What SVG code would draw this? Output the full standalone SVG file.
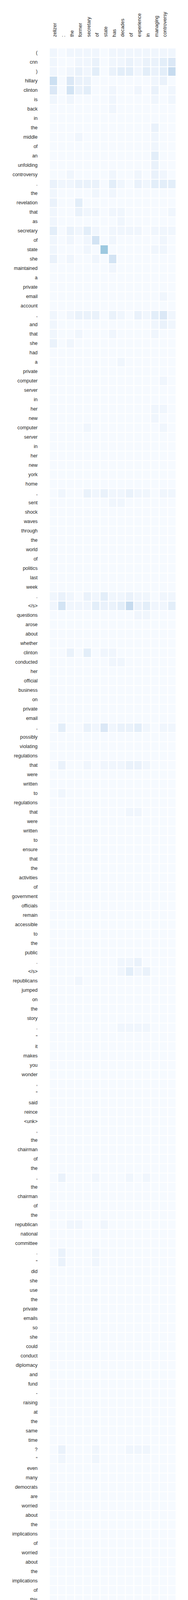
<svg xmlns="http://www.w3.org/2000/svg" width="480" height="4953" viewBox="0 0 480 4953">
<style>
.t{font-family:"Liberation Sans",Arial,sans-serif;font-size:12.4px;fill:#262626}
.r{text-anchor:end}
.a{fill:#f6faff}
.b{fill:#f0f6fd}
.c{fill:#eaf2fb}
.d{fill:#e3eef9}
.e{fill:#dbe8f6}
.f{fill:#d3e4f4}
.fg{fill:#cce0f2}
.g{fill:#c6dbef}
.h{fill:#9dc9e0}
</style>
<rect width="480" height="4953" fill="#ffffff"/>
<g id="base">
<rect class="a" x="127" y="124" width="18.8" height="4798"/>
<rect class="a" x="148.6" y="124" width="18.8" height="4798"/>
<rect class="a" x="170.2" y="124" width="18.8" height="4798"/>
<rect class="a" x="191.8" y="124" width="18.8" height="4798"/>
<rect class="a" x="213.4" y="124" width="18.8" height="4798"/>
<rect class="a" x="235" y="124" width="18.8" height="4798"/>
<rect class="a" x="256.6" y="124" width="18.8" height="4798"/>
<rect class="a" x="278.2" y="124" width="18.8" height="4798"/>
<rect class="a" x="299.8" y="124" width="18.8" height="4798"/>
<rect class="a" x="321.4" y="124" width="18.8" height="4798"/>
<rect class="a" x="343" y="124" width="18.8" height="4798"/>
<rect class="a" x="364.6" y="124" width="18.8" height="4798"/>
<rect class="a" x="386.2" y="124" width="18.8" height="4798"/>
<rect class="a" x="407.8" y="124" width="18.8" height="4798"/>
<rect class="a" x="429.4" y="124" width="18.8" height="4798"/>
</g>
<g id="cells">
<g transform="translate(0,124)"><rect class="b" x="127" width="18.8" height="22"/><rect class="b" x="170.2" width="18.8" height="22"/><rect class="b" x="191.8" width="18.8" height="22"/><rect class="b" x="213.4" width="18.8" height="22"/><rect class="b" x="235" width="18.8" height="22"/><rect class="b" x="278.2" width="18.8" height="22"/><rect class="b" x="299.8" width="18.8" height="22"/><rect class="b" x="321.4" width="18.8" height="22"/><rect class="b" x="343" width="18.8" height="22"/><rect class="b" x="364.6" width="18.8" height="22"/><rect class="b" x="386.2" width="18.8" height="22"/><rect class="b" x="407.8" width="18.8" height="22"/><rect class="b" x="429.4" width="18.8" height="22"/></g>
<g transform="translate(0,148)"><rect class="b" x="127" width="18.8" height="22"/><rect class="b" x="191.8" width="18.8" height="22"/><rect class="b" x="213.4" width="18.8" height="22"/><rect class="c" x="235" width="18.8" height="22"/><rect class="b" x="278.2" width="18.8" height="22"/><rect class="b" x="299.8" width="18.8" height="22"/><rect class="c" x="321.4" width="18.8" height="22"/><rect class="b" x="343" width="18.8" height="22"/><rect class="c" x="364.6" width="18.8" height="22"/><rect class="c" x="386.2" width="18.8" height="22"/><rect class="d" x="407.8" width="18.8" height="22"/><rect class="e" x="429.4" width="18.8" height="22"/></g>
<g transform="translate(0,172)"><rect class="b" x="127" width="18.8" height="22"/><rect class="b" x="170.2" width="18.8" height="22"/><rect class="c" x="191.8" width="18.8" height="22"/><rect class="b" x="213.4" width="18.8" height="22"/><rect class="d" x="235" width="18.8" height="22"/><rect class="c" x="278.2" width="18.8" height="22"/><rect class="d" x="299.8" width="18.8" height="22"/><rect class="d" x="321.4" width="18.8" height="22"/><rect class="b" x="343" width="18.8" height="22"/><rect class="d" x="364.6" width="18.8" height="22"/><rect class="c" x="386.2" width="18.8" height="22"/><rect class="d" x="407.8" width="18.8" height="22"/><rect class="g" x="429.4" width="18.8" height="22"/></g>
<g transform="translate(0,196)"><rect class="fg" x="127" width="18.8" height="22"/><rect class="e" x="170.2" width="18.8" height="22"/><rect class="c" x="191.8" width="18.8" height="22"/><rect class="c" x="213.4" width="18.8" height="22"/><rect class="b" x="386.2" width="18.8" height="22"/><rect class="c" x="407.8" width="18.8" height="22"/></g>
<g transform="translate(0,220)"><rect class="e" x="127" width="18.8" height="22"/><rect class="f" x="170.2" width="18.8" height="22"/><rect class="c" x="191.8" width="18.8" height="22"/><rect class="d" x="213.4" width="18.8" height="22"/><rect class="b" x="278.2" width="18.8" height="22"/><rect class="b" x="343" width="18.8" height="22"/><rect class="c" x="386.2" width="18.8" height="22"/><rect class="b" x="429.4" width="18.8" height="22"/></g>
<g transform="translate(0,244)"><rect class="b" x="127" width="18.8" height="22"/><rect class="b" x="170.2" width="18.8" height="22"/><rect class="b" x="278.2" width="18.8" height="22"/><rect class="b" x="386.2" width="18.8" height="22"/><rect class="b" x="429.4" width="18.8" height="22"/></g>
<g transform="translate(0,268)"><rect class="b" x="278.2" width="18.8" height="22"/></g>
<g transform="translate(0,316)"><rect class="c" x="386.2" width="18.8" height="22"/></g>
<g transform="translate(0,340)"><rect class="b" x="191.8" width="18.8" height="22"/><rect class="b" x="386.2" width="18.8" height="22"/></g>
<g transform="translate(0,364)"><rect class="b" x="386.2" width="18.8" height="22"/></g>
<g transform="translate(0,388)"><rect class="d" x="386.2" width="18.8" height="22"/></g>
<g transform="translate(0,412)"><rect class="c" x="386.2" width="18.8" height="22"/></g>
<g transform="translate(0,436)"><rect class="b" x="170.2" width="18.8" height="22"/><rect class="b" x="278.2" width="18.8" height="22"/><rect class="b" x="343" width="18.8" height="22"/><rect class="c" x="386.2" width="18.8" height="22"/><rect class="b" x="407.8" width="18.8" height="22"/></g>
<g transform="translate(0,460)"><rect class="c" x="127" width="18.8" height="22"/><rect class="b" x="148.6" width="18.8" height="22"/><rect class="b" x="170.2" width="18.8" height="22"/><rect class="c" x="191.8" width="18.8" height="22"/><rect class="c" x="213.4" width="18.8" height="22"/><rect class="c" x="235" width="18.8" height="22"/><rect class="d" x="278.2" width="18.8" height="22"/><rect class="b" x="299.8" width="18.8" height="22"/><rect class="c" x="343" width="18.8" height="22"/><rect class="b" x="364.6" width="18.8" height="22"/><rect class="d" x="386.2" width="18.8" height="22"/><rect class="d" x="407.8" width="18.8" height="22"/><rect class="d" x="429.4" width="18.8" height="22"/></g>
<g transform="translate(0,484)"><rect class="b" x="127" width="18.8" height="22"/><rect class="b" x="235" width="18.8" height="22"/><rect class="b" x="278.2" width="18.8" height="22"/></g>
<g transform="translate(0,508)"><rect class="c" x="127" width="18.8" height="22"/><rect class="d" x="191.8" width="18.8" height="22"/></g>
<g transform="translate(0,532)"><rect class="b" x="127" width="18.8" height="22"/><rect class="c" x="191.8" width="18.8" height="22"/><rect class="b" x="213.4" width="18.8" height="22"/><rect class="b" x="235" width="18.8" height="22"/><rect class="b" x="278.2" width="18.8" height="22"/><rect class="b" x="299.8" width="18.8" height="22"/><rect class="b" x="429.4" width="18.8" height="22"/></g>
<g transform="translate(0,556)"><rect class="b" x="127" width="18.8" height="22"/><rect class="b" x="299.8" width="18.8" height="22"/></g>
<g transform="translate(0,580)"><rect class="d" x="127" width="18.8" height="22"/><rect class="c" x="170.2" width="18.8" height="22"/><rect class="b" x="191.8" width="18.8" height="22"/><rect class="d" x="213.4" width="18.8" height="22"/><rect class="b" x="235" width="18.8" height="22"/><rect class="b" x="278.2" width="18.8" height="22"/><rect class="b" x="299.8" width="18.8" height="22"/><rect class="b" x="321.4" width="18.8" height="22"/><rect class="b" x="343" width="18.8" height="22"/><rect class="b" x="386.2" width="18.8" height="22"/><rect class="b" x="407.8" width="18.8" height="22"/><rect class="b" x="429.4" width="18.8" height="22"/></g>
<g transform="translate(0,604)"><rect class="b" x="127" width="18.8" height="22"/><rect class="b" x="170.2" width="18.8" height="22"/><rect class="b" x="213.4" width="18.8" height="22"/><rect class="f" x="235" width="18.8" height="22"/><rect class="b" x="278.2" width="18.8" height="22"/><rect class="b" x="407.8" width="18.8" height="22"/></g>
<g transform="translate(0,628)"><rect class="b" x="127" width="18.8" height="22"/><rect class="b" x="213.4" width="18.8" height="22"/><rect class="h" x="256.6" width="18.8" height="22"/><rect class="b" x="386.2" width="18.8" height="22"/><rect class="b" x="407.8" width="18.8" height="22"/></g>
<g transform="translate(0,652)"><rect class="c" x="127" width="18.8" height="22"/><rect class="b" x="170.2" width="18.8" height="22"/><rect class="b" x="235" width="18.8" height="22"/><rect class="f" x="278.2" width="18.8" height="22"/></g>
<g transform="translate(0,676)"><rect class="b" x="278.2" width="18.8" height="22"/></g>
<g transform="translate(0,748)"><rect class="b" x="407.8" width="18.8" height="22"/></g>
<g transform="translate(0,796)"><rect class="b" x="127" width="18.8" height="22"/><rect class="b" x="170.2" width="18.8" height="22"/><rect class="c" x="191.8" width="18.8" height="22"/><rect class="c" x="213.4" width="18.8" height="22"/><rect class="c" x="235" width="18.8" height="22"/><rect class="c" x="278.2" width="18.8" height="22"/><rect class="b" x="299.8" width="18.8" height="22"/><rect class="c" x="343" width="18.8" height="22"/><rect class="b" x="364.6" width="18.8" height="22"/><rect class="d" x="386.2" width="18.8" height="22"/><rect class="e" x="407.8" width="18.8" height="22"/><rect class="b" x="429.4" width="18.8" height="22"/></g>
<g transform="translate(0,820)"><rect class="b" x="127" width="18.8" height="22"/><rect class="b" x="386.2" width="18.8" height="22"/><rect class="c" x="407.8" width="18.8" height="22"/><rect class="b" x="429.4" width="18.8" height="22"/></g>
<g transform="translate(0,844)"><rect class="b" x="127" width="18.8" height="22"/><rect class="b" x="191.8" width="18.8" height="22"/><rect class="b" x="278.2" width="18.8" height="22"/><rect class="b" x="386.2" width="18.8" height="22"/></g>
<g transform="translate(0,868)"><rect class="c" x="127" width="18.8" height="22"/><rect class="b" x="170.2" width="18.8" height="22"/></g>
<g transform="translate(0,916)"><rect class="b" x="299.8" width="18.8" height="22"/></g>
<g transform="translate(0,964)"><rect class="b" x="407.8" width="18.8" height="22"/></g>
<g transform="translate(0,1036)"><rect class="b" x="386.2" width="18.8" height="22"/><rect class="b" x="407.8" width="18.8" height="22"/></g>
<g transform="translate(0,1060)"><rect class="b" x="386.2" width="18.8" height="22"/></g>
<g transform="translate(0,1084)"><rect class="b" x="213.4" width="18.8" height="22"/><rect class="b" x="407.8" width="18.8" height="22"/></g>
<g transform="translate(0,1252)"><rect class="b" x="148.6" width="18.8" height="22"/><rect class="c" x="213.4" width="18.8" height="22"/><rect class="b" x="235" width="18.8" height="22"/><rect class="c" x="256.6" width="18.8" height="22"/><rect class="b" x="278.2" width="18.8" height="22"/><rect class="b" x="299.8" width="18.8" height="22"/><rect class="c" x="321.4" width="18.8" height="22"/><rect class="b" x="343" width="18.8" height="22"/><rect class="b" x="364.6" width="18.8" height="22"/><rect class="b" x="407.8" width="18.8" height="22"/><rect class="b" x="429.4" width="18.8" height="22"/></g>
<g transform="translate(0,1276)"><rect class="b" x="278.2" width="18.8" height="22"/><rect class="b" x="299.8" width="18.8" height="22"/></g>
<g transform="translate(0,1516)"><rect class="b" x="127" width="18.8" height="22"/><rect class="c" x="148.6" width="18.8" height="22"/><rect class="b" x="170.2" width="18.8" height="22"/><rect class="c" x="213.4" width="18.8" height="22"/><rect class="b" x="235" width="18.8" height="22"/><rect class="d" x="256.6" width="18.8" height="22"/><rect class="b" x="278.2" width="18.8" height="22"/><rect class="b" x="299.8" width="18.8" height="22"/><rect class="c" x="321.4" width="18.8" height="22"/><rect class="b" x="343" width="18.8" height="22"/><rect class="b" x="364.6" width="18.8" height="22"/><rect class="b" x="407.8" width="18.8" height="22"/><rect class="b" x="429.4" width="18.8" height="22"/></g>
<g transform="translate(0,1540)"><rect class="b" x="127" width="18.8" height="22"/><rect class="f" x="148.6" width="18.8" height="22"/><rect class="b" x="170.2" width="18.8" height="22"/><rect class="b" x="191.8" width="18.8" height="22"/><rect class="b" x="213.4" width="18.8" height="22"/><rect class="d" x="235" width="18.8" height="22"/><rect class="c" x="256.6" width="18.8" height="22"/><rect class="c" x="278.2" width="18.8" height="22"/><rect class="d" x="299.8" width="18.8" height="22"/><rect class="g" x="321.4" width="18.8" height="22"/><rect class="c" x="343" width="18.8" height="22"/><rect class="d" x="364.6" width="18.8" height="22"/><rect class="b" x="386.2" width="18.8" height="22"/><rect class="b" x="407.8" width="18.8" height="22"/><rect class="d" x="429.4" width="18.8" height="22"/></g>
<g transform="translate(0,1564)"><rect class="b" x="343" width="18.8" height="22"/><rect class="b" x="364.6" width="18.8" height="22"/></g>
<g transform="translate(0,1660)"><rect class="c" x="170.2" width="18.8" height="22"/><rect class="d" x="213.4" width="18.8" height="22"/><rect class="b" x="256.6" width="18.8" height="22"/><rect class="b" x="278.2" width="18.8" height="22"/></g>
<g transform="translate(0,1684)"><rect class="b" x="278.2" width="18.8" height="22"/><rect class="b" x="299.8" width="18.8" height="22"/></g>
<g transform="translate(0,1852)"><rect class="d" x="148.6" width="18.8" height="22"/><rect class="c" x="213.4" width="18.8" height="22"/><rect class="b" x="235" width="18.8" height="22"/><rect class="e" x="256.6" width="18.8" height="22"/><rect class="b" x="278.2" width="18.8" height="22"/><rect class="c" x="299.8" width="18.8" height="22"/><rect class="c" x="321.4" width="18.8" height="22"/><rect class="d" x="343" width="18.8" height="22"/><rect class="b" x="364.6" width="18.8" height="22"/><rect class="b" x="407.8" width="18.8" height="22"/><rect class="b" x="429.4" width="18.8" height="22"/></g>
<g transform="translate(0,1948)"><rect class="c" x="148.6" width="18.8" height="22"/><rect class="b" x="213.4" width="18.8" height="22"/><rect class="b" x="256.6" width="18.8" height="22"/><rect class="b" x="278.2" width="18.8" height="22"/><rect class="b" x="299.8" width="18.8" height="22"/><rect class="c" x="321.4" width="18.8" height="22"/><rect class="c" x="343" width="18.8" height="22"/><rect class="b" x="364.6" width="18.8" height="22"/></g>
<g transform="translate(0,2020)"><rect class="b" x="148.6" width="18.8" height="22"/></g>
<g transform="translate(0,2068)"><rect class="b" x="321.4" width="18.8" height="22"/><rect class="b" x="343" width="18.8" height="22"/></g>
<g transform="translate(0,2452)"><rect class="b" x="299.8" width="18.8" height="22"/><rect class="b" x="321.4" width="18.8" height="22"/><rect class="c" x="343" width="18.8" height="22"/></g>
<g transform="translate(0,2476)"><rect class="b" x="299.8" width="18.8" height="22"/><rect class="d" x="321.4" width="18.8" height="22"/><rect class="b" x="343" width="18.8" height="22"/><rect class="c" x="364.6" width="18.8" height="22"/></g>
<g transform="translate(0,2500)"><rect class="b" x="191.8" width="18.8" height="22"/></g>
<g transform="translate(0,2620)"><rect class="b" x="299.8" width="18.8" height="22"/><rect class="b" x="321.4" width="18.8" height="22"/><rect class="b" x="343" width="18.8" height="22"/><rect class="b" x="364.6" width="18.8" height="22"/></g>
<g transform="translate(0,3004)"><rect class="c" x="148.6" width="18.8" height="22"/><rect class="b" x="235" width="18.8" height="22"/><rect class="b" x="321.4" width="18.8" height="22"/><rect class="b" x="364.6" width="18.8" height="22"/></g>
<g transform="translate(0,3124)"><rect class="b" x="170.2" width="18.8" height="22"/><rect class="b" x="191.8" width="18.8" height="22"/><rect class="b" x="256.6" width="18.8" height="22"/></g>
<g transform="translate(0,3196)"><rect class="c" x="148.6" width="18.8" height="22"/><rect class="b" x="235" width="18.8" height="22"/></g>
<g transform="translate(0,3220)"><rect class="c" x="148.6" width="18.8" height="22"/><rect class="b" x="235" width="18.8" height="22"/></g>
<g transform="translate(0,3700)"><rect class="c" x="148.6" width="18.8" height="22"/><rect class="b" x="235" width="18.8" height="22"/><rect class="b" x="321.4" width="18.8" height="22"/><rect class="b" x="343" width="18.8" height="22"/><rect class="b" x="364.6" width="18.8" height="22"/></g>
<g transform="translate(0,3724)"><rect class="b" x="148.6" width="18.8" height="22"/><rect class="b" x="235" width="18.8" height="22"/></g>
<g transform="translate(0,4156)"><rect class="c" x="148.6" width="18.8" height="22"/></g>
<g transform="translate(0,4276)"><rect class="c" x="148.6" width="18.8" height="22"/><rect class="b" x="235" width="18.8" height="22"/></g>
<g transform="translate(0,4468)"><rect class="c" x="148.6" width="18.8" height="22"/></g>
<g transform="translate(0,4564)"><rect class="b" x="148.6" width="18.8" height="22"/></g>
<g transform="translate(0,4876)"><rect class="b" x="148.6" width="18.8" height="22"/></g>
<g transform="translate(0,4900)"><rect class="d" x="148.6" width="18.8" height="22"/></g>
</g>
<path id="rowgaps" fill="none" stroke="#ffffff" stroke-width="2" d="M126 147h323m-323 24h323m-323 24h323m-323 24h323m-323 24h323m-323 24h323m-323 24h323m-323 24h323m-323 24h323m-323 24h323m-323 24h323m-323 24h323m-323 24h323m-323 24h323m-323 24h323m-323 24h323m-323 24h323m-323 24h323m-323 24h323m-323 24h323m-323 24h323m-323 24h323m-323 24h323m-323 24h323m-323 24h323m-323 24h323m-323 24h323m-323 24h323m-323 24h323m-323 24h323m-323 24h323m-323 24h323m-323 24h323m-323 24h323m-323 24h323m-323 24h323m-323 24h323m-323 24h323m-323 24h323m-323 24h323m-323 24h323m-323 24h323m-323 24h323m-323 24h323m-323 24h323m-323 24h323m-323 24h323m-323 24h323m-323 24h323m-323 24h323m-323 24h323m-323 24h323m-323 24h323m-323 24h323m-323 24h323m-323 24h323m-323 24h323m-323 24h323m-323 24h323m-323 24h323m-323 24h323m-323 24h323m-323 24h323m-323 24h323m-323 24h323m-323 24h323m-323 24h323m-323 24h323m-323 24h323m-323 24h323m-323 24h323m-323 24h323m-323 24h323m-323 24h323m-323 24h323m-323 24h323m-323 24h323m-323 24h323m-323 24h323m-323 24h323m-323 24h323m-323 24h323m-323 24h323m-323 24h323m-323 24h323m-323 24h323m-323 24h323m-323 24h323m-323 24h323m-323 24h323m-323 24h323m-323 24h323m-323 24h323m-323 24h323m-323 24h323m-323 24h323m-323 24h323m-323 24h323m-323 24h323m-323 24h323m-323 24h323m-323 24h323m-323 24h323m-323 24h323m-323 24h323m-323 24h323m-323 24h323m-323 24h323m-323 24h323m-323 24h323m-323 24h323m-323 24h323m-323 24h323m-323 24h323m-323 24h323m-323 24h323m-323 24h323m-323 24h323m-323 24h323m-323 24h323m-323 24h323m-323 24h323m-323 24h323m-323 24h323m-323 24h323m-323 24h323m-323 24h323m-323 24h323m-323 24h323m-323 24h323m-323 24h323m-323 24h323m-323 24h323m-323 24h323m-323 24h323m-323 24h323m-323 24h323m-323 24h323m-323 24h323m-323 24h323m-323 24h323m-323 24h323m-323 24h323m-323 24h323m-323 24h323m-323 24h323m-323 24h323m-323 24h323m-323 24h323m-323 24h323m-323 24h323m-323 24h323m-323 24h323m-323 24h323m-323 24h323m-323 24h323m-323 24h323m-323 24h323m-323 24h323m-323 24h323m-323 24h323m-323 24h323m-323 24h323m-323 24h323m-323 24h323m-323 24h323m-323 24h323m-323 24h323m-323 24h323m-323 24h323m-323 24h323m-323 24h323m-323 24h323m-323 24h323"/>
<g id="col-labels" class="t">
<text transform="translate(144.4,94.5) rotate(-90)">zelizer</text>
<text transform="translate(166,94.5) rotate(-90)">:</text>
<text transform="translate(187.6,94.5) rotate(-90)">the</text>
<text transform="translate(209.2,94.5) rotate(-90)">former</text>
<text transform="translate(230.8,94.5) rotate(-90)">secretary</text>
<text transform="translate(252.4,94.5) rotate(-90)">of</text>
<text transform="translate(274,94.5) rotate(-90)">state</text>
<text transform="translate(295.6,94.5) rotate(-90)">has</text>
<text transform="translate(317.2,94.5) rotate(-90)">decades</text>
<text transform="translate(338.8,94.5) rotate(-90)">of</text>
<text transform="translate(360.4,94.5) rotate(-90)">experience</text>
<text transform="translate(382,94.5) rotate(-90)">in</text>
<text transform="translate(403.6,94.5) rotate(-90)">managing</text>
<text transform="translate(425.2,94.5) rotate(-90)">controversy</text>
</g>
<g id="row-labels" class="t r">
<text x="96" y="139">(</text>
<text x="96" y="163">cnn</text>
<text x="96" y="187">)</text>
<text x="96" y="211">hillary</text>
<text x="96" y="235">clinton</text>
<text x="96" y="259">is</text>
<text x="96" y="283">back</text>
<text x="96" y="307">in</text>
<text x="96" y="331">the</text>
<text x="96" y="355">middle</text>
<text x="96" y="379">of</text>
<text x="96" y="403">an</text>
<text x="96" y="427">unfolding</text>
<text x="96" y="451">controversy</text>
<text x="96" y="475">.</text>
<text x="96" y="499">the</text>
<text x="96" y="523">revelation</text>
<text x="96" y="547">that</text>
<text x="96" y="571">as</text>
<text x="96" y="595">secretary</text>
<text x="96" y="619">of</text>
<text x="96" y="643">state</text>
<text x="96" y="667">she</text>
<text x="96" y="691">maintained</text>
<text x="96" y="715">a</text>
<text x="96" y="739">private</text>
<text x="96" y="763">email</text>
<text x="96" y="787">account</text>
<text x="96" y="811">,</text>
<text x="96" y="835">and</text>
<text x="96" y="859">that</text>
<text x="96" y="883">she</text>
<text x="96" y="907">had</text>
<text x="96" y="931">a</text>
<text x="96" y="955">private</text>
<text x="96" y="979">computer</text>
<text x="96" y="1003">server</text>
<text x="96" y="1027">in</text>
<text x="96" y="1051">her</text>
<text x="96" y="1075">new</text>
<text x="96" y="1099">computer</text>
<text x="96" y="1123">server</text>
<text x="96" y="1147">in</text>
<text x="96" y="1171">her</text>
<text x="96" y="1195">new</text>
<text x="96" y="1219">york</text>
<text x="96" y="1243">home</text>
<text x="96" y="1267">,</text>
<text x="96" y="1291">sent</text>
<text x="96" y="1315">shock</text>
<text x="96" y="1339">waves</text>
<text x="96" y="1363">through</text>
<text x="96" y="1387">the</text>
<text x="96" y="1411">world</text>
<text x="96" y="1435">of</text>
<text x="96" y="1459">politics</text>
<text x="96" y="1483">last</text>
<text x="96" y="1507">week</text>
<text x="96" y="1531">.</text>
<text x="96" y="1555">&lt;/s&gt;</text>
<text x="96" y="1579">questions</text>
<text x="96" y="1603">arose</text>
<text x="96" y="1627">about</text>
<text x="96" y="1651">whether</text>
<text x="96" y="1675">clinton</text>
<text x="96" y="1699">conducted</text>
<text x="96" y="1723">her</text>
<text x="96" y="1747">official</text>
<text x="96" y="1771">business</text>
<text x="96" y="1795">on</text>
<text x="96" y="1819">private</text>
<text x="96" y="1843">email</text>
<text x="96" y="1867">,</text>
<text x="96" y="1891">possibly</text>
<text x="96" y="1915">violating</text>
<text x="96" y="1939">regulations</text>
<text x="96" y="1963">that</text>
<text x="96" y="1987">were</text>
<text x="96" y="2011">written</text>
<text x="96" y="2035">to</text>
<text x="96" y="2059">regulations</text>
<text x="96" y="2083">that</text>
<text x="96" y="2107">were</text>
<text x="96" y="2131">written</text>
<text x="96" y="2155">to</text>
<text x="96" y="2179">ensure</text>
<text x="96" y="2203">that</text>
<text x="96" y="2227">the</text>
<text x="96" y="2251">activities</text>
<text x="96" y="2275">of</text>
<text x="96" y="2299">government</text>
<text x="96" y="2323">officials</text>
<text x="96" y="2347">remain</text>
<text x="96" y="2371">accessible</text>
<text x="96" y="2395">to</text>
<text x="96" y="2419">the</text>
<text x="96" y="2443">public</text>
<text x="96" y="2467">.</text>
<text x="96" y="2491">&lt;/s&gt;</text>
<text x="96" y="2515">republicans</text>
<text x="96" y="2539">jumped</text>
<text x="96" y="2563">on</text>
<text x="96" y="2587">the</text>
<text x="96" y="2611">story</text>
<text x="96" y="2635">.</text>
<text x="96" y="2659">"</text>
<text x="96" y="2683">it</text>
<text x="96" y="2707">makes</text>
<text x="96" y="2731">you</text>
<text x="96" y="2755">wonder</text>
<text x="96" y="2779">,</text>
<text x="96" y="2803">"</text>
<text x="96" y="2827">said</text>
<text x="96" y="2851">reince</text>
<text x="96" y="2875">&lt;unk&gt;</text>
<text x="96" y="2899">,</text>
<text x="96" y="2923">the</text>
<text x="96" y="2947">chairman</text>
<text x="96" y="2971">of</text>
<text x="96" y="2995">the</text>
<text x="96" y="3019">,</text>
<text x="96" y="3043">the</text>
<text x="96" y="3067">chairman</text>
<text x="96" y="3091">of</text>
<text x="96" y="3115">the</text>
<text x="96" y="3139">republican</text>
<text x="96" y="3163">national</text>
<text x="96" y="3187">committee</text>
<text x="96" y="3211">.</text>
<text x="96" y="3235">"</text>
<text x="96" y="3259">did</text>
<text x="96" y="3283">she</text>
<text x="96" y="3307">use</text>
<text x="96" y="3331">the</text>
<text x="96" y="3355">private</text>
<text x="96" y="3379">emails</text>
<text x="96" y="3403">so</text>
<text x="96" y="3427">she</text>
<text x="96" y="3451">could</text>
<text x="96" y="3475">conduct</text>
<text x="96" y="3499">diplomacy</text>
<text x="96" y="3523">and</text>
<text x="96" y="3547">fund</text>
<text x="96" y="3571">-</text>
<text x="96" y="3595">raising</text>
<text x="96" y="3619">at</text>
<text x="96" y="3643">the</text>
<text x="96" y="3667">same</text>
<text x="96" y="3691">time</text>
<text x="96" y="3715">?</text>
<text x="96" y="3739">"</text>
<text x="96" y="3763">even</text>
<text x="96" y="3787">many</text>
<text x="96" y="3811">democrats</text>
<text x="96" y="3835">are</text>
<text x="96" y="3859">worried</text>
<text x="96" y="3883">about</text>
<text x="96" y="3907">the</text>
<text x="96" y="3931">implications</text>
<text x="96" y="3955">of</text>
<text x="96" y="3979">worried</text>
<text x="96" y="4003">about</text>
<text x="96" y="4027">the</text>
<text x="96" y="4051">implications</text>
<text x="96" y="4075">of</text>
<text x="96" y="4099">this</text>
<text x="96" y="4123">recent</text>
<text x="96" y="4147">story</text>
<text x="96" y="4171">.</text>
<text x="96" y="4195">their</text>
<text x="96" y="4219">front</text>
<text x="96" y="4243">-</text>
<text x="96" y="4267">runner</text>
<text x="96" y="4291">,</text>
<text x="96" y="4315">their</text>
<text x="96" y="4339">"</text>
<text x="96" y="4363">inevitable</text>
<text x="96" y="4387">"</text>
<text x="96" y="4411">nominee</text>
<text x="96" y="4435">for</text>
<text x="96" y="4459">####</text>
<text x="96" y="4483">,</text>
<text x="96" y="4507">now</text>
<text x="96" y="4531">seems</text>
<text x="96" y="4555">vulnerable</text>
<text x="96" y="4579">.</text>
<text x="96" y="4603">many</text>
<text x="96" y="4627">in</text>
<text x="96" y="4651">washington</text>
<text x="96" y="4675">are</text>
<text x="96" y="4699">anticipating</text>
<text x="96" y="4723">that</text>
<text x="96" y="4747">the</text>
<text x="96" y="4771">scandal</text>
<text x="96" y="4795">is</text>
<text x="96" y="4819">only</text>
<text x="96" y="4843">getting</text>
<text x="96" y="4867">started</text>
<text x="96" y="4891">.</text>
<text x="96" y="4915">&lt;/s&gt;</text>
</g>
</svg>
